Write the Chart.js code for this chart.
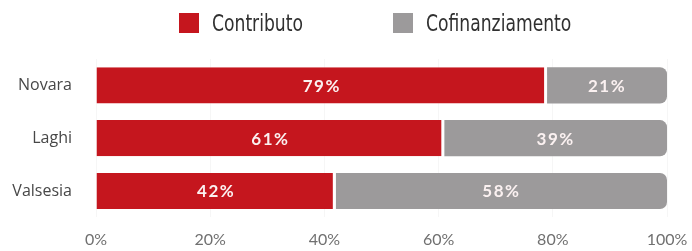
<!DOCTYPE html>
<html>
<head>
<meta charset="utf-8">
<script src="https://cdn.jsdelivr.net/npm/chart.js@4.4.1/dist/chart.umd.min.js"></script>
<style>
  body { margin: 0; background: #fff; }
  #wrap { position: relative; width: 692px; height: 251px; }
  #legend { position: absolute; top: 7px; left: 0; width: 692px; height: 32px; font-family: 'Liberation Sans Narrow', 'DejaVu Sans Condensed', sans-serif; font-size: 23px; color: #303030; }
  .item { position: absolute; top: 0; display: flex; align-items: center; height: 32px; white-space: nowrap; }
  .box { width: 20px; height: 20px; margin-right: 13px; flex: none; }
  .txt { display: inline-block; transform: scaleX(0.83); transform-origin: left center; }
</style>
</head>
<body>
<div id="wrap">
  <div id="legend"></div>
  <canvas id="bars" width="692" height="251"></canvas>
</div>
<script>
// Data
const regions = ['Novara', 'Laghi', 'Valsesia'];
const contributo = [79, 61, 42];
const cofinanziamento = [21, 39, 58];
const xTicks = [0, 20, 40, 60, 80, 100];

const seriesNames = ['Contributo', 'Cofinanziamento'];
const seriesColors = ['#c5161e', '#9c9a9b'];

// Legend (HTML, built from the series arrays)
const legendEl = document.getElementById('legend');
const legendX = [179, 393];
seriesNames.forEach((name, i) => {
    const item = document.createElement('div');
    item.className = 'item';
    item.style.left = legendX[i] + 'px';
    item.innerHTML = '<span class="box" style="background:' + seriesColors[i] + '"></span><span class="txt">' + name + '</span>';
    legendEl.appendChild(item);
});

// Percent labels inside the bars
const barLabels = {
    id: 'barLabels',
    afterDatasetsDraw(chart) {
        const ctx = chart.ctx;
        ctx.save();
        ctx.font = 'bold 17px Lato, sans-serif';
        ctx.letterSpacing = '1.5px';
        ctx.fillStyle = '#fbf1f1';
        ctx.textAlign = 'center';
        ctx.textBaseline = 'middle';
        chart.data.datasets.forEach((ds, di) => {
            const meta = chart.getDatasetMeta(di);
            meta.data.forEach((bar, i) => {
                const p = bar.getCenterPoint();
                ctx.fillText(ds.data[i] + '%', p.x, p.y + 1);
            });
        });
        ctx.restore();
    }
};

const ctx = document.getElementById('bars').getContext('2d');
new Chart(ctx, {
    type: 'bar',
    data: {
        labels: regions,
        datasets: [{
            label: seriesNames[0],
            data: contributo,
            backgroundColor: seriesColors[0],
            borderColor: '#ffffff',
            borderWidth: { right: 3, left: 0, top: 0, bottom: 0 },
            borderSkipped: false,
            barPercentage: 0.685,
            categoryPercentage: 1,
        }, {
            label: seriesNames[1],
            data: cofinanziamento,
            backgroundColor: seriesColors[1],
            borderWidth: 0,
            borderRadius: { topRight: 7, bottomRight: 7 },
            borderSkipped: false,
            barPercentage: 0.685,
            categoryPercentage: 1,
        }],
    },
    options: {
        indexAxis: 'y',
        responsive: false,
        animation: false,
        layout: { padding: { left: 0, right: 25, top: 59, bottom: 0 } },
        plugins: {
            legend: { display: false },
            tooltip: { enabled: false },
        },
        scales: {
            x: {
                stacked: true,
                min: 0,
                max: 100,
                afterBuildTicks: axis => { axis.ticks = xTicks.map(v => ({ value: v })); },
                afterFit: axis => {
                    axis.height = 30;
                    axis.paddingLeft = 0;
                    axis.paddingRight = 0;
                },
                grid: { color: 'rgba(0,0,0,0.035)', drawTicks: false },
                border: { display: false },
                ticks: {
                    padding: 13,
                    color: '#707070',
                    font: { family: 'Lato', size: 16 },
                    callback: v => v + '%',
                },
            },
            y: {
                stacked: true,
                afterFit: axis => { axis.width = 96; },
                grid: { display: false, drawTicks: false },
                border: { display: false },
                ticks: {
                    padding: 24,
                    color: '#474747',
                    font: { family: 'Open Sans', size: 16 },
                },
            },
        },
    },
    plugins: [barLabels],
});
</script>
</body>
</html>
